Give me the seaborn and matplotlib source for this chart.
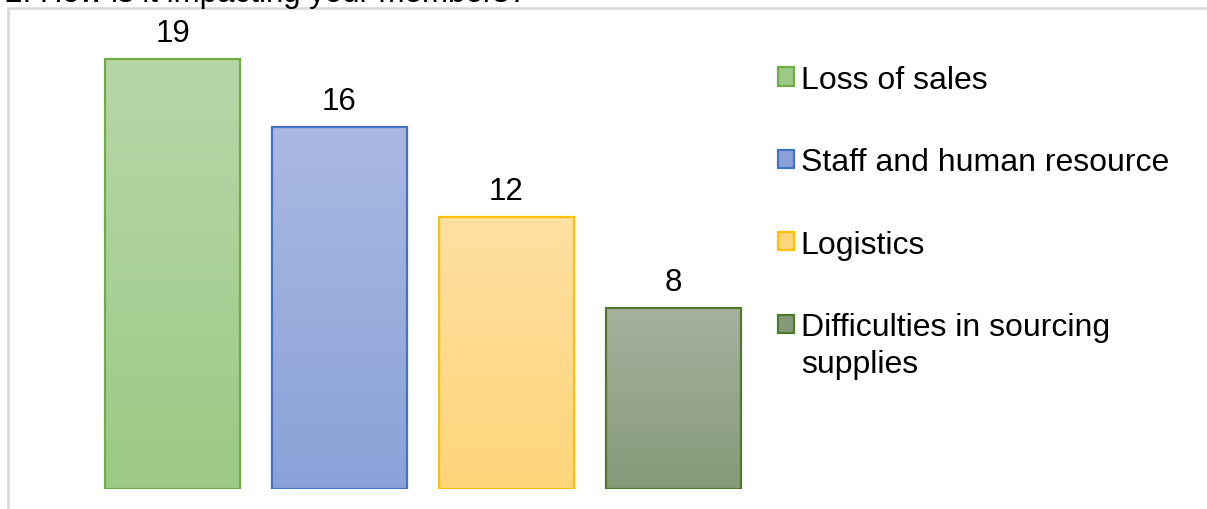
import numpy as np
import pandas as pd
import matplotlib
matplotlib.use("Agg")
import matplotlib.pyplot as plt
from matplotlib.patches import Rectangle, Patch
from matplotlib.colors import LinearSegmentedColormap
import seaborn as sns

categories = ["Loss of sales", "Staff and human resource", "Logistics",
              "Difficulties in sourcing supplies"]
legend_labels = ["Loss of sales", "Staff and human resource", "Logistics",
                 "Difficulties in sourcing"]
legend_extra_line = "supplies"
values = [19, 16, 12, 8]
title = "2. How is it impacting your members?"

top_colors = ["#b7d7a9", "#aab9e1", "#ffe0a2", "#a7b19e"]
bottom_colors = ["#9cc985", "#8aa2d9", "#ffd57b", "#859a79"]
edge_colors = ["#70ad47", "#4472c4", "#ffc000", "#4e7a2e"]

sns.set_theme(style="white")
plt.rcParams['font.family'] = ['Liberation Sans', 'DejaVu Sans']
plt.rcParams['text.color'] = 'black'

W, H = 1207, 510
fig = plt.figure(figsize=(W / 100, H / 100), dpi=100)
ax = fig.add_axes([89 / W, 1 - 490 / H, (757 - 89) / W, (490 - 20) / H])

df = pd.DataFrame({"category": categories, "value": values})
sns.barplot(data=df, x="category", y="value", color=top_colors[0],
            width=0.81, ax=ax, linewidth=1.6, saturation=1)

# gradient fills
for p, ec, tc, bc in zip(ax.patches, edge_colors, top_colors, bottom_colors):
    p.set_edgecolor(ec)
    p.set_facecolor("none")
    p.set_zorder(3)
    x0, y0 = p.get_x(), p.get_y()
    w, h = p.get_width(), p.get_height()
    cmap = LinearSegmentedColormap.from_list("g", [bc, tc])
    grad = np.linspace(0, 1, 256).reshape(-1, 1)
    im = ax.imshow(grad, cmap=cmap, aspect="auto", origin="lower",
                   extent=[x0, x0 + w, y0, y0 + h], zorder=2)
    im.set_clip_path(p)

ax.set_xlim(-0.5, 3.5)
ax.set_ylim(0, 470 / 22.63)
ax.set_axis_off()

for c in ax.containers:
    ax.bar_label(c, fmt="%d", padding=8, fontsize=22.5, color="black")

handles = [Patch(facecolor=c, edgecolor=e, linewidth=1.6)
           for c, e in zip(bottom_colors, edge_colors)]
leg = fig.legend(handles, legend_labels, loc="upper left",
                 bbox_to_anchor=(765 / W, 1 - 53 / H), frameon=False,
                 fontsize=23, handlelength=0.5, handleheight=0.5,
                 handletextpad=0.22, labelspacing=1.64, borderaxespad=0)
for t in leg.get_texts():
    t.set_color("black")

# second line of the last legend label, placed right under its first line
fig.canvas.draw()
last = leg.get_texts()[-1]
bb = last.get_window_extent()
fig.text(bb.x0 / W, (bb.y1 - 37) / H, legend_extra_line, fontsize=23,
         ha="left", va="top", color="black")

# outer chart frame
fig.patches.append(Rectangle((7.5 / W, -0.2), 1.5, 1.2 - 8.5 / H,
                             transform=fig.transFigure, fill=False,
                             edgecolor="#d9d9d9", linewidth=1.8))

fig.text(5 / W, 1 - 2 / H, title, fontsize=22.5, ha="left", va="baseline",
         color="black")

fig.savefig("out.png", dpi=100)
